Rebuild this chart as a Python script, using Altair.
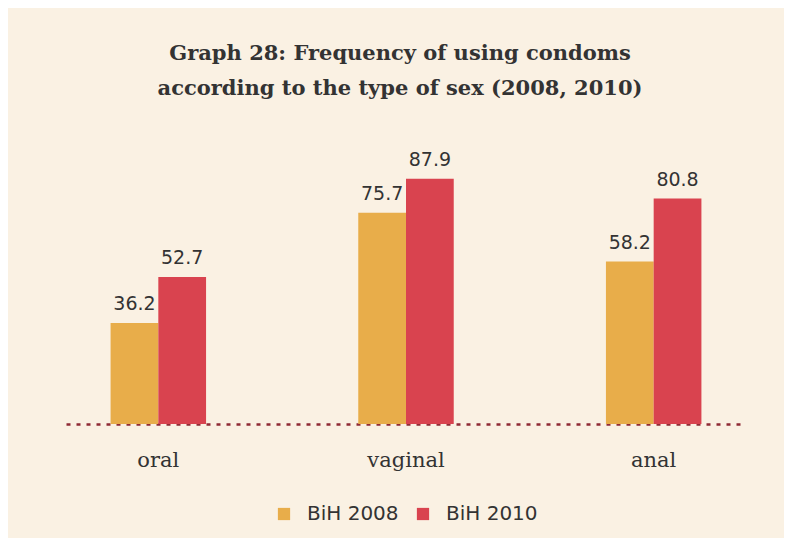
import altair as alt
import pandas as pd

categories = ["oral", "vaginal", "anal"]
series = ["BiH 2008", "BiH 2010"]
values_2008 = [36.2, 75.7, 58.2]
values_2010 = [52.7, 87.9, 80.8]

rows = []
for c, a, b in zip(categories, values_2008, values_2010):
    rows.append({"type": c, "year": series[0], "value": a, "label": f"{a:.1f}"})
    rows.append({"type": c, "year": series[1], "value": b, "label": f"{b:.1f}"})
df = pd.DataFrame(rows)

colors = ["#e8ad4a", "#d9434f"]
bg = "#faf1e3"

x = alt.X("type:N", sort=categories, title=None,
          scale=alt.Scale(paddingInner=0.6145, paddingOuter=0.18),
          axis=alt.Axis(domain=True, domainColor="#8e2a35", domainDash=[4, 6],
                        domainWidth=2.5, ticks=False, labelAngle=0, labelPadding=25,
                        labelFont="DejaVu Serif", labelFontSize=21, labelColor="#333333"))
y = alt.Y("value:Q", scale=alt.Scale(domain=[0, 100]), axis=None)
xo = alt.XOffset("year:N", sort=series)

base = alt.Chart(df)

bars = base.mark_bar().encode(
    x=x, y=y, xOffset=xo,
    color=alt.Color("year:N", sort=series,
                    scale=alt.Scale(domain=series, range=colors),
                    legend=alt.Legend(title=None, orient="none", direction="horizontal",
                                      legendX=208, legendY=359, symbolType="square",
                                      symbolSize=150, symbolStrokeWidth=0,
                                      labelFont="DejaVu Sans", labelFontSize=20,
                                      labelColor="#333333", columnPadding=14,
                                      labelOffset=13)),
)

labels = base.mark_text(baseline="bottom", dy=-9, font="DejaVu Sans", fontSize=19,
                        color="#333333").encode(
    x=x, y=y, xOffset=xo, text="label:N")

chart = alt.layer(bars, labels).properties(
    width=680, height=279,
    background=bg,
    padding={"left": 58, "top": 137, "right": 38, "bottom": 114},
    autosize=alt.AutoSizeParams(type="none"),
    title=alt.TitleParams(
        ["Graph 28: Frequency of using condoms",
         "according to the type of sex (2008, 2010)"],
        font="DejaVu Serif", fontSize=21, fontWeight="bold", color="#333333",
        anchor="middle", lineHeight=35, offset=46, dx=-6),
).configure_view(stroke=None)

chart.save("out.html", embed_options={"renderer": "svg", "actions": False})
